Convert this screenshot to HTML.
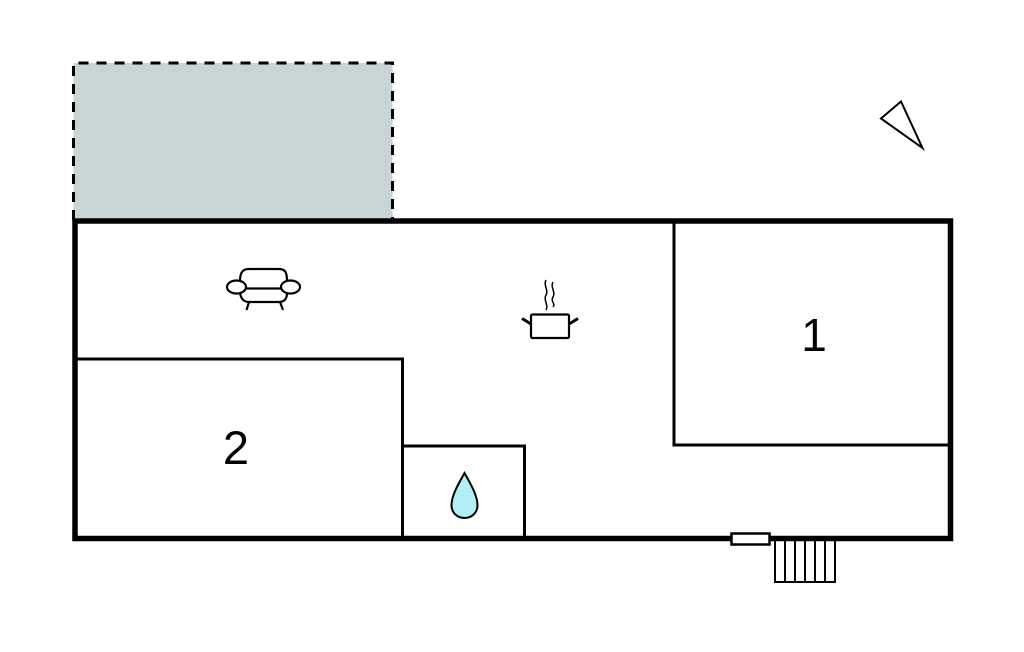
<!DOCTYPE html>
<html>
<head>
<meta charset="utf-8">
<style>
  html, body { margin: 0; padding: 0; background: #ffffff; }
  body { width: 1024px; height: 652px; overflow: hidden; }
  svg { display: block; }
  text { font-family: "Liberation Sans", Arial, sans-serif; }
</style>
</head>
<body>
<svg width="1024" height="652" viewBox="0 0 1024 652" xmlns="http://www.w3.org/2000/svg">
  <!-- terrace (dashed) -->
  <rect x="73.5" y="63" width="319" height="157" fill="#c8d4d5" stroke="none"/>
  <path d="M73.5 220 L73.5 63 L392.5 63 L392.5 220" fill="none" stroke="#000" stroke-width="3" stroke-dasharray="10 8"/>

  <!-- interior walls -->
  <g fill="none" stroke="#000" stroke-width="3">
    <!-- room 1 -->
    <path d="M674 221 L674 445 L950 445"/>
    <!-- room 2 -->
    <path d="M75 359 L402.5 359 L402.5 538"/>
    <!-- bathroom -->
    <path d="M402.5 446 L524.5 446 L524.5 538"/>
  </g>

  <!-- outer wall -->
  <rect x="75" y="221" width="875.5" height="317.5" fill="none" stroke="#000" stroke-width="5.5"/>

  <!-- door -->
  <rect x="731.5" y="533.5" width="38" height="11" fill="#fff" stroke="#000" stroke-width="2.5"/>

  <!-- stairs -->
  <g fill="none" stroke="#000" stroke-width="2">
    <rect x="775" y="540" width="60" height="42"/>
    <line x1="785" y1="540" x2="785" y2="582"/>
    <line x1="795" y1="540" x2="795" y2="582"/>
    <line x1="805" y1="540" x2="805" y2="582"/>
    <line x1="815" y1="540" x2="815" y2="582"/>
    <line x1="825" y1="540" x2="825" y2="582"/>
  </g>

  <!-- water drop -->
  <path d="M464.5 473 C460 481 451.5 495 451.5 505 C451.5 513 457.5 518 464.5 518 C471.5 518 477.5 513 477.5 505 C477.5 495 469 481 464.5 473 Z" fill="#b2eef5" stroke="#000" stroke-width="2"/>

  <!-- sofa -->
  <g fill="none" stroke="#000" stroke-width="2.2">
    <path d="M240 281 C240 272 243 269 249 269 L279 269 C285 269 287 272 287 281"/>
    <ellipse cx="236.5" cy="287" rx="9.5" ry="6.5" fill="#fff"/>
    <ellipse cx="290.5" cy="287" rx="9.5" ry="6.5" fill="#fff"/>
    <line x1="246" y1="288.5" x2="281" y2="288.5"/>
    <path d="M240 293 C241 299 244 302 249 302 L279 302 C284 302 287 299 287 293"/>
    <line x1="249" y1="302" x2="246.5" y2="310"/>
    <line x1="280" y1="302" x2="283" y2="310"/>
  </g>

  <!-- pot -->
  <g fill="none" stroke="#000">
    <rect x="531" y="314.5" width="38" height="23.5" rx="1.5" stroke-width="2.2" fill="#fff"/>
    <line x1="522" y1="318.5" x2="531" y2="324" stroke-width="3"/>
    <line x1="569" y1="324" x2="578" y2="318.5" stroke-width="3"/>
    <path d="M546 280 C543 285 549 290 546 295 C543 300 549 305 546 310" stroke-width="1.5"/>
    <path d="M553 282 C550 287 556 292 553 297 C550 301 556 304 553 307" stroke-width="1.5"/>
  </g>

  <!-- room numbers -->
  <text x="814" y="351" font-size="46" text-anchor="middle" fill="#000">1</text>
  <text x="236" y="464" font-size="47" text-anchor="middle" fill="#000">2</text>

  <!-- compass -->
  <polygon points="881,118.5 901,101.5 922.5,148" fill="none" stroke="#000" stroke-width="2"/>
</svg>
</body>
</html>
